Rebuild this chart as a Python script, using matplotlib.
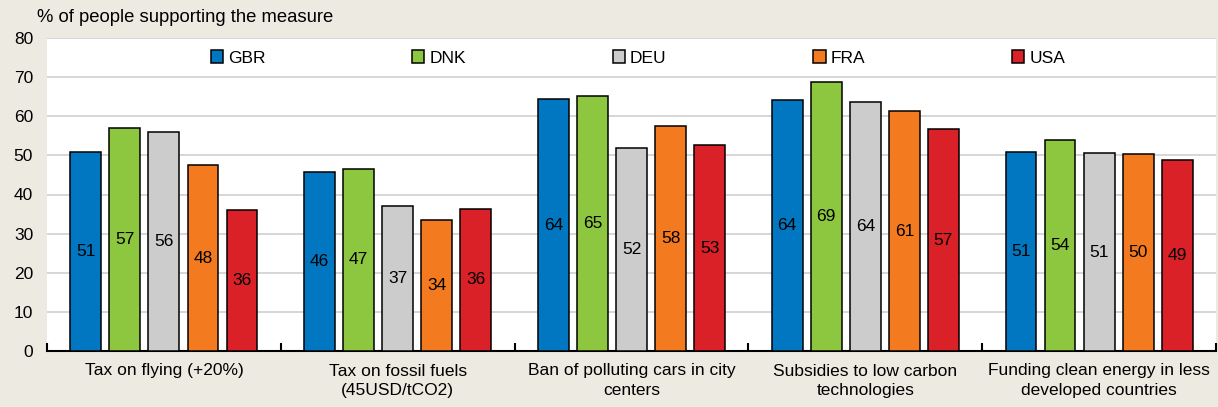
import numpy as np
import matplotlib
matplotlib.use('Agg')
import matplotlib.pyplot as plt

# --- data ---
categories = ['Tax on flying (+20%)', 'Tax on fossil fuels\n(45USD/tCO2)',
              'Ban of polluting cars in city\ncenters', 'Subsidies to low carbon\ntechnologies',
              'Funding clean energy in less\ndeveloped countries']
countries = ['GBR', 'DNK', 'DEU', 'FRA', 'USA']
gbr = [50.9, 45.7, 64.4, 64.1, 50.8]
dnk = [57.0, 46.6, 65.1, 68.7, 53.9]
deu = [56.0, 37.0, 52.0, 63.6, 50.6]
fra = [47.5, 33.6, 57.6, 61.3, 50.3]
usa = [36.0, 36.4, 52.6, 56.7, 48.8]
series = [gbr, dnk, deu, fra, usa]
colors = ['#0077C0', '#8DC63F', '#CCCCCC', '#F47A20', '#DA2128']

plt.rcParams['font.family'] = ['Liberation Sans', 'DejaVu Sans']
fs = 12.5

fig = plt.figure(figsize=(12.18, 4.07), dpi=100, facecolor='#EDEBE1')
ax = fig.add_axes([47/1218, 1 - 351/407, 1169/1218, 313/407])
ax.set_facecolor('white')

x = np.arange(len(categories))
pitch = 0.167
width = 0.132
for i, (vals, c, name) in enumerate(zip(series, colors, countries)):
    pos = x + (i - 2) * pitch
    bars = ax.bar(pos, vals, width, color=c, edgecolor='black', linewidth=1.1,
                  label=name, zorder=3)
    for b, v in zip(bars, vals):
        ax.text(b.get_x() + b.get_width() / 2, v / 2, str(int(v + 0.5)),
                ha='center', va='center', fontsize=fs, color='black', zorder=4)

ax.set_xlim(-0.5, len(categories) - 0.5)
ax.set_ylim(0, 80)
ax.set_yticks(range(0, 81, 10))
ax.yaxis.grid(True, color='#D0D0D0', linewidth=1.2, zorder=0)
ax.tick_params(axis='y', length=0, labelsize=fs, pad=10)

# category labels without ticks, boundary ticks as minor
ax.set_xticks(x)
ax.set_xticklabels(categories, fontsize=fs, linespacing=1.4)
ax.tick_params(axis='x', which='major', length=0, pad=9)
ax.set_xticks(np.arange(-0.5, len(categories), 1), minor=True)
ax.tick_params(axis='x', which='minor', direction='in', length=6, width=1.5, color='black')

for s in ['top', 'right', 'left']:
    ax.spines[s].set_visible(False)
ax.spines['bottom'].set_linewidth(1.5)

leg = ax.legend(loc='upper left', bbox_to_anchor=(0.1266, 1.01), ncol=5, frameon=False,
                fontsize=fs, handlelength=0.7, handleheight=0.7, handletextpad=0.3,
                columnspacing=8.45)

fig.text(37/1218, 1 - 17/407, '% of people supporting the measure', fontsize=13.3,
         ha='left', va='center')

fig.savefig('out.png', dpi=100, facecolor=fig.get_facecolor())
